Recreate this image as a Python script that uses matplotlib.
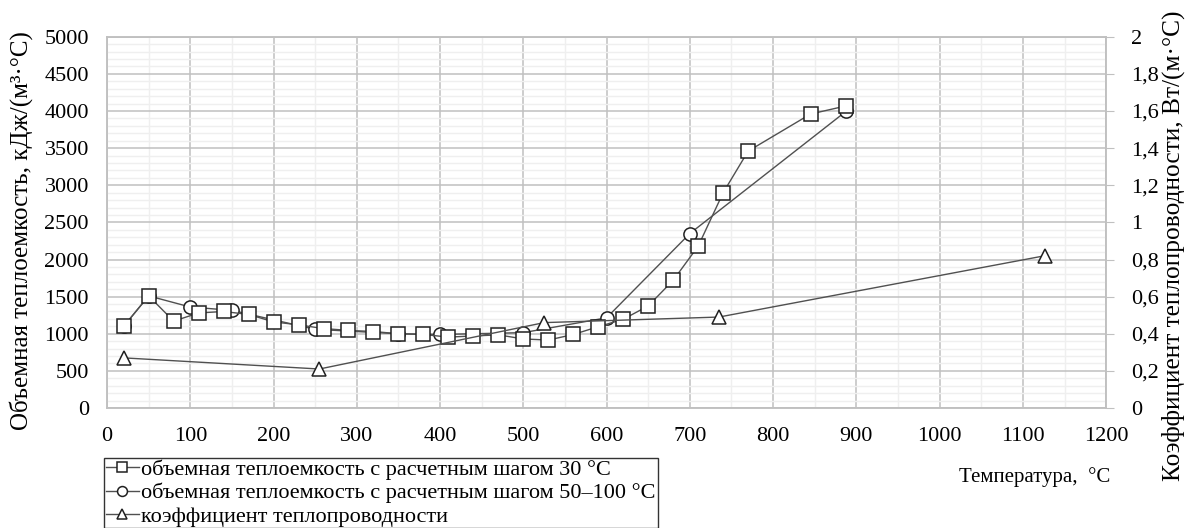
import matplotlib.pyplot as plt
from matplotlib.ticker import MultipleLocator, FuncFormatter

plt.rcParams['font.family'] = ['Liberation Serif', 'DejaVu Serif']

# Volumetric heat capacity, 30 C step
t_30 = [20, 50, 80, 110, 140, 170, 200, 230, 260, 290, 320, 350, 380, 410, 440,
        470, 500, 530, 560, 590, 620, 650, 680, 710, 740, 770, 845, 888]
c_30 = [1100, 1510, 1170, 1280, 1300, 1260, 1160, 1120, 1070, 1045, 1030, 1000, 990, 955, 970,
        985, 930, 915, 990, 1095, 1195, 1375, 1720, 2180, 2900, 3460, 3960, 4070]

# Volumetric heat capacity, 50-100 C step
t_50 = [20, 50, 100, 150, 250, 350, 400, 500, 600, 700, 888]
c_50 = [1100, 1510, 1360, 1315, 1060, 1000, 990, 1015, 1215, 2350, 4000]

# Thermal conductivity
t_k = [20, 255, 525, 735, 1126]
k = [0.27, 0.21, 0.46, 0.49, 0.82]

labels = ['объемная теплоемкость с расчетным шагом 30 °С',
          'объемная теплоемкость с расчетным шагом 50–100 °С',
          'коэффициент теплопроводности']

line_col = '#505050'
grid_major = '#c0c0c0'
grid_minor = '#efefef'
fs = 16

fig = plt.figure(figsize=(11.88, 5.28), dpi=100)
ax = fig.add_axes([0.0901, 0.2273, 0.8410, 0.7030])
ax2 = ax.twinx()

common = dict(color=line_col, lw=1.0, mfc='white', mec='#202020', mew=1.1)
l1, = ax.plot(t_30, c_30, marker='s', ms=9.5, label=labels[0], zorder=3, **common)
l2, = ax.plot(t_50, c_50, marker='o', ms=9.5, label=labels[1], zorder=2, **common)
l3, = ax2.plot(t_k, k, marker='^', ms=10, label=labels[2], **common)

ax.set_xlim(0, 1200)
ax.set_ylim(0, 5000)
ax2.set_ylim(0, 2)

ax.xaxis.set_major_locator(MultipleLocator(100))
ax.xaxis.set_minor_locator(MultipleLocator(50))
ax.yaxis.set_major_locator(MultipleLocator(500))
ax.yaxis.set_minor_locator(MultipleLocator(100))
ax2.yaxis.set_major_locator(MultipleLocator(0.2))
ax2.yaxis.set_major_formatter(FuncFormatter(lambda v, p: ('%g' % round(v, 1)).replace('.', ',')))

ax.grid(which='major', color=grid_major, lw=1.1)
ax.grid(which='minor', color=grid_minor, lw=1.0)
ax.set_axisbelow(True)

for a in (ax, ax2):
    for s in a.spines.values():
        s.set_color(grid_major)
        s.set_linewidth(1.1)

ax.tick_params(axis='x', which='both', length=0, labelsize=fs, pad=14)
ax.tick_params(axis='y', which='both', length=0, labelsize=fs, pad=13)
ax2.tick_params(axis='y', which='major', length=6, color=grid_major, labelsize=fs, pad=12)

ax.set_ylabel('Объемная теплоемкость, кДж/(м³·°С)', fontsize=18)
ax.yaxis.set_label_coords(-0.074, 0.477)
ax2.set_ylabel('Коэффициент теплопроводности, Вт/(м·°С)', fontsize=18.3)
ax2.yaxis.set_label_coords(1.055, 0.437)
fig.text(0.871, 0.096, 'Температура,  °С', fontsize=15, ha='center', va='center')

leg = fig.legend(handles=[l1, l2, l3], loc='upper left', bbox_to_anchor=(0.0875, 0.133),
                 fontsize=16, frameon=True, fancybox=False, edgecolor='black',
                 handlelength=1.5, handletextpad=0.1, labelspacing=0.12,
                 borderpad=0.08, borderaxespad=0, markerscale=0.75)
leg.get_frame().set_linewidth(1.0)

fig.savefig('out.png', dpi=100)
